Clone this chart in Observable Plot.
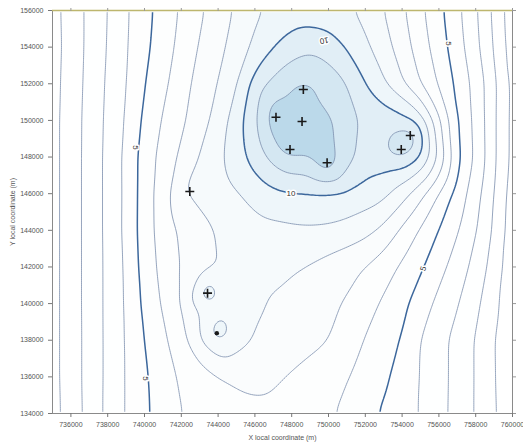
<!DOCTYPE html>
<html><head><meta charset="utf-8">
<script src="https://cdn.jsdelivr.net/npm/d3@7"></script>
<script src="https://cdn.jsdelivr.net/npm/@observablehq/plot@0.6"></script>
<style>
body{margin:0;background:#fff;}
#chart svg{display:block;}
</style>
</head><body><div id="chart"></div>
<script>
// grid node coordinates (m)
const gridX = [735000,736000,737000,738000,739000,740000,741000,742000,743000,744000,745000,746000,747000,
               748000,749000,750000,751000,752000,753000,754000,755000,756000,757000,758000,759000,760000];
const gridY = [156000,154000,152000,150000,148000,146000,144000,142000,140000,138000,136000,134000];
// field values at each grid node (one row per gridY)
const gridValues = [
 [0.6,1.43,2.24,3.0,3.88,4.66,5.41,6.13,6.84,7.49,8.14,8.85,9.2,9.33,9.38,9.33,9.15,8.73,8.02,7.19,6.21,5.27,4.24,3.16,1.78,0.3],
 [0.56,1.41,2.25,3.05,3.92,4.76,5.53,6.3,7.1,7.71,8.44,9.24,9.97,10.6,10.85,10.6,9.9,9.22,8.43,7.51,6.49,5.49,4.44,3.29,1.95,0.35],
 [0.6,1.45,2.3,3.14,3.97,4.99,5.76,6.57,7.37,8.01,8.89,10.46,11.29,11.75,11.95,11.55,11.05,10.0,9.16,8.13,6.99,5.9,4.77,3.65,2.28,0.45],
 [0.62,1.5,2.35,3.2,4.09,5.23,6.09,6.82,7.56,8.4,9.54,10.8,12.5,12.85,12.9,12.22,11.4,10.75,10.55,10.35,9.6,7.18,5.0,3.75,2.22,0.45],
 [0.62,1.5,2.37,3.24,4.22,5.47,6.34,7.21,8.07,8.75,9.53,10.4,11.33,11.95,11.95,12.5,11.3,10.6,10.7,10.95,10.05,7.8,5.15,3.83,2.22,0.45],
 [0.62,1.5,2.37,3.24,4.2,5.5,6.51,7.79,8.28,8.6,8.91,9.31,9.75,9.93,9.95,9.93,9.85,9.58,9.3,8.46,7.34,5.95,4.6,3.41,2.03,0.36],
 [0.62,1.5,2.37,3.24,4.22,5.52,6.46,7.19,7.66,8.1,8.4,8.6,8.72,8.8,8.85,8.8,8.6,8.3,7.76,6.81,5.89,4.97,4.1,3.09,1.87,0.33],
 [0.62,1.5,2.37,3.22,4.13,5.44,6.31,7.07,7.6,8.05,8.2,8.25,8.22,8.12,7.93,7.6,7.3,7.0,6.45,5.85,5.15,4.34,3.53,2.67,1.57,0.3],
 [0.62,1.5,2.37,3.22,4.1,5.26,6.11,7.03,8.2,8.7,8.3,8.15,7.92,7.68,7.44,7.2,6.92,6.4,5.85,5.27,4.51,3.73,3.08,2.26,1.26,0.3],
 [0.62,1.5,2.35,3.22,4.07,5.04,5.8,6.59,7.89,9.0,8.3,7.95,7.72,7.49,7.26,7.03,6.51,5.94,5.46,4.96,3.96,3.35,2.68,1.95,1.02,0.25],
 [0.62,1.5,2.35,3.22,4.07,4.86,5.58,6.16,6.56,6.96,7.15,7.2,7.12,6.91,6.63,6.35,6.07,5.65,5.19,4.61,3.96,3.35,2.68,1.95,1.05,0.25],
 [0.6,1.45,2.33,3.25,4.07,4.83,5.44,6.01,6.3,6.55,6.72,6.82,6.82,6.7,6.48,6.15,5.74,5.31,4.87,4.42,3.96,3.32,2.66,1.94,1.1,0.3]
];
// wells
const wellX = [748633,747146,748562,747908,749924,754444,753954,742462,743426,743932];
const wellY = [151688,150176,149941,148413,147687,149177,148413,146120,140569,138386];
const wellValue = [12.6,12.8,14.0,12.7,12.8,11.9,11.9,8.4,10.6,10.0];
const wellMarker = ["plus","plus","plus","plus","plus","plus","plus","plus","plus","dot"];
// extra field samples read between wells
const extraX = [748600,748500,748616,749600,747650,743700,743350];
const extraY = [150800,149300,148358,151100,151300,139450,141400];
const extraValue = [12.5,12.85,12.0,11.85,11.9,8.6,8.4];
// contour levels
const thinLevels = [1,2,3,4,6,7,8,9,11,12,13,14];
const boldLevels = [5,10];
const fillLevels = [0,1,2,3,4,5,6,7,8,9,10,11,12,13,14];
// contour labels
const labelX = [739521,740065,755153,756514,749760,747963];
const labelY = [148522,135913,141917,154199,154362,146011];
const labelText = ["5","5","5","5","10","10"];
const labelAngle = [90,90,-72,90,170,0];
// axis ticks
const xTicks = [736000,738000,740000,742000,744000,746000,748000,750000,752000,754000,756000,758000,760000];
const yTicks = [134000,136000,138000,140000,142000,144000,146000,148000,150000,152000,154000,156000];

const samples = [];
gridY.forEach((y, j) => gridX.forEach((x, i) => samples.push({x, y, v: gridValues[j][i]})));
wellX.forEach((x, i) => samples.push({x, y: wellY[i], v: wellValue[i]}));
extraX.forEach((x, i) => samples.push({x, y: extraY[i], v: extraValue[i]}));
const wells = wellX.map((x, i) => ({x, y: wellY[i], m: wellMarker[i]}));
const labels = labelX.map((x, i) => ({x, y: labelY[i], t: labelText[i], a: labelAngle[i]}));

const common = {x: "x", y: "y", value: "v", interpolate: "barycentric", blur: 3};
const fmt = d => String(d);
const none = () => "";

const chart = Plot.plot({
  width: 523, height: 445,
  marginLeft: 52, marginRight: 11, marginTop: 10, marginBottom: 32,
  style: {fontFamily: "'Liberation Sans', Arial, sans-serif", background: "#fff"},
  x: {domain: [735000, 760000]},
  y: {domain: [134000, 156000]},
  color: {type: "linear", domain: [0, 6, 8, 9, 10, 11, 12, 13],
          range: ["#ffffff", "#fdfefe", "#f6fafc", "#eef6fa", "#e1eef6", "#d4e7f2", "#bbd9ea", "#a9cee5"], clamp: true},
  marks: [
    Plot.contour(samples, {...common, thresholds: fillLevels, fill: "value", stroke: "none"}),
    Plot.contour(samples, {...common, thresholds: thinLevels, fill: "none", stroke: "#7a8dac", strokeWidth: 0.8}),
    Plot.contour(samples, {...common, thresholds: boldLevels, fill: "none", stroke: "#3c679c", strokeWidth: 1.5}),
    Plot.text(labels, {x: "x", y: "y", text: "t", rotate: "a", fontSize: 8, fill: "#333", stroke: "#fff", strokeWidth: 3}),
    Plot.dot(wells.filter(d => d.m === "plus"), {x: "x", y: "y", symbol: "plus", r: 3, stroke: "#1a1a1a", strokeWidth: 1.6}),
    Plot.dot(wells.filter(d => d.m === "dot"), {x: "x", y: "y", r: 2.2, fill: "#1a1a1a"}),
    Plot.frame({stroke: "#fff", strokeWidth: 3.5}),
    Plot.frame({stroke: "#8a8a8a"}),
    Plot.ruleY([156000], {stroke: "#bdb66e", strokeWidth: 1.5}),
    Plot.axisX(xTicks, {anchor: "bottom", tickSize: 4, tickFormat: fmt, fontSize: 7, fill: "#555", stroke: "#777",
      label: "X local coordinate (m)", labelAnchor: "center", labelArrow: "none", labelOffset: 26}),
    Plot.axisX(xTicks, {anchor: "top", tickSize: 3, tickFormat: none, label: null, stroke: "#999"}),
    Plot.axisY(yTicks, {anchor: "left", tickSize: 4, tickFormat: fmt, fontSize: 7, fill: "#555", stroke: "#777",
      label: "Y local coordinate (m)", labelAnchor: "center", labelArrow: "none", labelOffset: 42}),
    Plot.axisY(yTicks, {anchor: "right", tickSize: 3, tickFormat: none, label: null, stroke: "#999"})
  ]
});
document.getElementById("chart").append(chart);
</script>
</body></html>
